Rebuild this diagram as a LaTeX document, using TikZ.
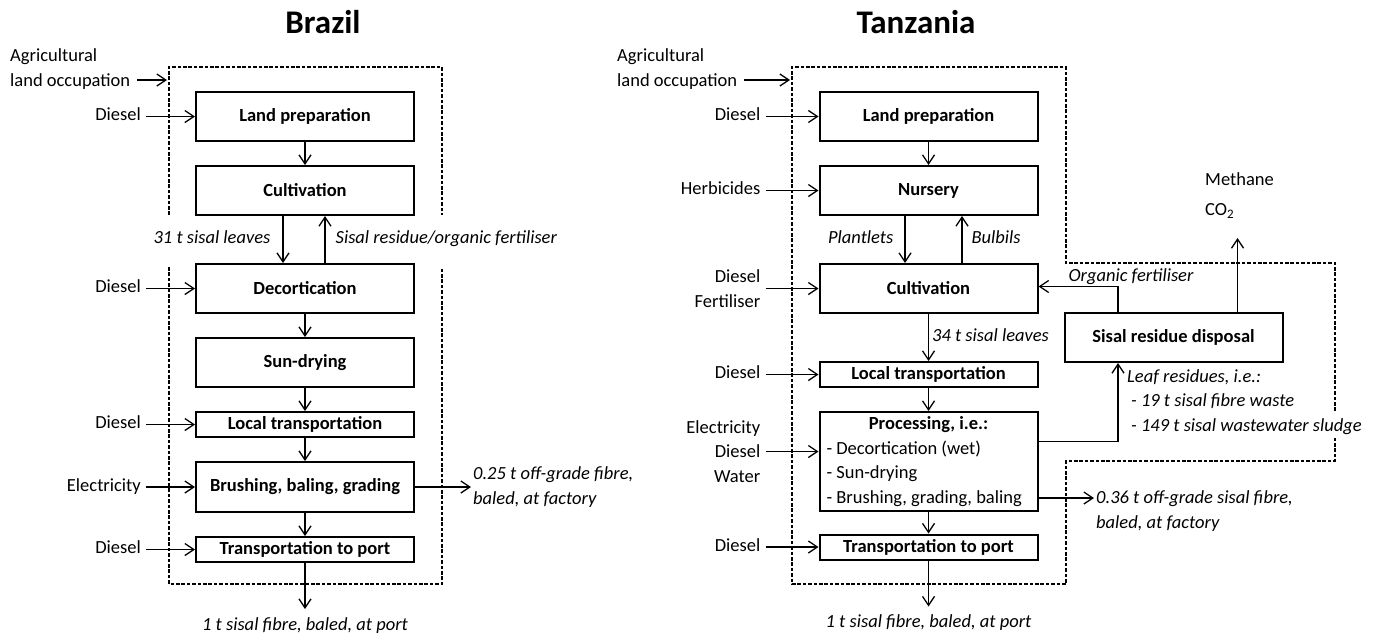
\documentclass[tikz,border=0pt]{standalone}
\usepackage{fontspec}
\setmainfont{Carlito}
\usetikzlibrary{arrows.meta, positioning}
\newcommand{\lblfont}{\fontsize{18.5}{24.6}\selectfont}
\tikzstyle{box} = [rectangle, minimum width=218pt, minimum height=49pt, align=flush center, draw=black, line width=2pt, font=\lblfont\bfseries]
\tikzstyle{flat} = [box, minimum height=25pt]
\tikzstyle{lbl} = [inner sep=2pt, text height=12pt, text depth=3.5pt, font=\lblfont]
\tikzstyle{flow} = [lbl, font=\lblfont\itshape]
\tikzstyle{multi} = [inner sep=2pt, align=flush left, font=\lblfont]
\tikzstyle{inp} = [lbl, inner xsep=5pt]
\tikzstyle{heading} = [font=\fontsize{33}{36}\selectfont\bfseries]
\tikzstyle{arrow} = [line width=1.3pt, -{Straight Barb[length=9pt,width=12pt]}]
\tikzstyle{boundary} = [line width=1.4pt, dash pattern=on 3.6pt off 1.8pt]

\begin{document}
\begin{tikzpicture}[x=1pt, y=-1pt]
        \useasboundingbox (0,0) rectangle (1381,633);

        % Titles
        \node (head_bz) [heading] at (323,22) {Brazil};
        \node (head_tz) [heading] at (916,22) {Tanzania};

        % System boundaries
        \draw [boundary] (169,215) -- (169,67) -- (442,67) -- (442,215);
        \draw [boundary] (169,267) -- (169,584) -- (442,584) -- (442,267);
        \draw [boundary] (1335,411) -- (1335,263) -- (1066,263) -- (1066,67) -- (792,67) -- (792,584) -- (1066,584) -- (1066,461) -- (1335,461) -- (1335,437);

        % Nodes: Brazil
        \node (land_bz) [box] at (305,116.5) {Land preparation};
        \node (cult_bz) [box, below=23pt of land_bz] {Cultivation};
        \node (dec_bz) [box, below=47pt of cult_bz] {Decortication};
        \node (dry_bz) [box, below=23pt of dec_bz] {Sun-drying};
        \node (ltr_bz) [flat, below=23pt of dry_bz] {Local transportation};
        \node (brush_bz) [box, minimum height=50pt, below=23pt of ltr_bz] {Brushing, baling, grading};
        \node (port_bz) [flat, below=23pt of brush_bz] {Transportation to port};

        \node (agr_bz) [multi, anchor=west] at (8,69) {Agricultural\\land occupation};
        \coordinate (occ_bz) at (167,80);
        \node (dsl1_bz) [inp, left=49pt of land_bz] {Diesel};
        \node (dsl2_bz) [inp, left=49pt of dec_bz] {Diesel};
        \node (dsl3_bz) [inp, left=49pt of ltr_bz] {Diesel};
        \node (elec_bz) [inp, left=49pt of brush_bz] {Electricity};
        \node (dsl4_bz) [inp, left=49pt of port_bz] {Diesel};

        \node (off_bz) [multi, font=\lblfont\itshape, right=56pt of brush_bz] {0.25 t off-grade fibre,\\baled, at factory};
        \node (out_bz) [flow, below=55pt of port_bz, inner sep=0pt] {1 t sisal fibre, baled, at port};

        % Nodes: Tanzania
        \node (land_tz) [box] at (928.5,116.5) {Land preparation};
        \node (nurs_tz) [box, below=23pt of land_tz] {Nursery};
        \node (cult_tz) [box, below=47pt of nurs_tz] {Cultivation};
        \node (ltr_tz) [flat, below=47pt of cult_tz] {Local transportation};
        \node (proc_tz) [box, minimum height=99pt, inner xsep=7pt, align=flush left, font=\lblfont, below=23pt of ltr_tz] {\makebox[204pt]{\bfseries Processing, i.e.:}\\- Decortication (wet)\\- Sun-drying\\- Brushing, grading, baling};
        \node (port_tz) [flat, below=21.5pt of proc_tz] {Transportation to port};
        \node (disp_tz) [box] at (1173.5,337.5) {Sisal residue disposal};

        \node (agr_tz) [multi, anchor=west] at (615,69) {Agricultural\\land occupation};
        \coordinate (occ_tz) at (790,80);
        \node (dsl1_tz) [inp, left=53pt of land_tz] {Diesel};
        \node (herb_tz) [inp, left=53pt of nurs_tz] {Herbicides};
        \node (dsl2_tz) [multi, align=flush right, inner xsep=5pt, left=53pt of cult_tz] {Diesel\\Fertiliser};
        \node (elec_tz) [multi, align=flush right, inner xsep=5pt, anchor=east] at ([xshift=-53pt, yshift=10pt]proc_tz.west) {Electricity\\Diesel\\Water};
        \node (dsl3_tz) [inp, left=53pt of ltr_tz] {Diesel};
        \node (dsl4_tz) [inp, left=53pt of port_tz] {Diesel};

        \node (off_tz) [multi, font=\lblfont\itshape, anchor=west] at (1094,511) {0.36 t off-grade sisal fibre,\\baled, at factory};
        \node (out_tz) [flow, below=55pt of port_tz, inner sep=0pt] {1 t sisal fibre, baled, at port};
        \node (ghg_tz) [multi, anchor=west] at (1203,195.5) {Methane\\[5pt]CO\textsubscript{2}};
        \coordinate (ghg_in) at (1237.5,238);
        \node (org_tz) [flow] at (1131,277) {Organic fertiliser};
        \node (res_tz) [multi, font=\lblfont\itshape, anchor=west] at (1125,402) {Leaf residues, i.e.:\\\hspace*{4pt}- 19 t sisal fibre waste\\\hspace*{4pt}- 149 t sisal wastewater sludge};

        % Arrows: Brazil
        \draw [arrow] (land_bz) -- (cult_bz);
        \draw [arrow] ([xshift=-22pt]cult_bz.south) -- node[flow, left=10pt] {31 t sisal leaves} ([xshift=-22pt]dec_bz.north);
        \draw [arrow] ([xshift=20pt]dec_bz.north) -- node[flow, right=8pt] {Sisal residue/organic fertiliser} ([xshift=20pt]cult_bz.south);
        \draw [arrow] (dec_bz) -- (dry_bz);
        \draw [arrow] (dry_bz) -- (ltr_bz);
        \draw [arrow] (ltr_bz) -- (brush_bz);
        \draw [arrow] (brush_bz) -- (port_bz);
        \draw [arrow, shorten >=9pt] (port_bz) -- (out_bz);
        \draw [arrow] (brush_bz) -- (off_bz);
        \draw [arrow, shorten <=5pt] (agr_bz.east |- occ_bz) -- (occ_bz);
        \draw [arrow] (dsl1_bz) -- (land_bz);
        \draw [arrow] (dsl2_bz) -- (dec_bz);
        \draw [arrow] (dsl3_bz) -- (ltr_bz);
        \draw [arrow] (elec_bz) -- (brush_bz);
        \draw [arrow] (dsl4_bz) -- (port_bz);

        % Arrows: Tanzania
        \draw [arrow] (land_tz) -- (nurs_tz);
        \draw [arrow] ([xshift=-23.5pt]nurs_tz.south) -- node[flow, left=9pt] {Plantlets} ([xshift=-23.5pt]cult_tz.north);
        \draw [arrow] ([xshift=33.5pt]cult_tz.north) -- node[flow, right=7pt] {Bulbils} ([xshift=33.5pt]nurs_tz.south);
        \draw [arrow] (cult_tz) -- node[flow, right=1pt] {34 t sisal leaves} (ltr_tz);
        \draw [arrow] (ltr_tz) -- (proc_tz);
        \draw [arrow] (proc_tz) -- (port_tz);
        \draw [arrow, shorten >=9pt] (port_tz) -- (out_tz);
        \draw [arrow] ([yshift=-36.5pt]proc_tz.east) -- ([yshift=-36.5pt]proc_tz.east -| off_tz.west);
        \draw [arrow] ([yshift=20pt]proc_tz.east) -| ([xshift=-55.5pt]disp_tz.south);
        \draw [arrow] ([xshift=-55.5pt]disp_tz.north) |- ([yshift=2pt]cult_tz.east);
        \draw [arrow] ([xshift=64pt]disp_tz.north) -- (ghg_in);
        \draw [arrow, shorten <=5pt] (agr_tz.east |- occ_tz) -- (occ_tz);
        \draw [arrow] (dsl1_tz) -- (land_tz);
        \draw [arrow] (herb_tz) -- (nurs_tz);
        \draw [arrow] (dsl2_tz) -- (cult_tz);
        \draw [arrow] (elec_tz.east) -- (elec_tz.east -| proc_tz.west);
        \draw [arrow] (dsl3_tz) -- (ltr_tz);
        \draw [arrow] (dsl4_tz) -- (port_tz);
    \end{tikzpicture}
\end{document}
